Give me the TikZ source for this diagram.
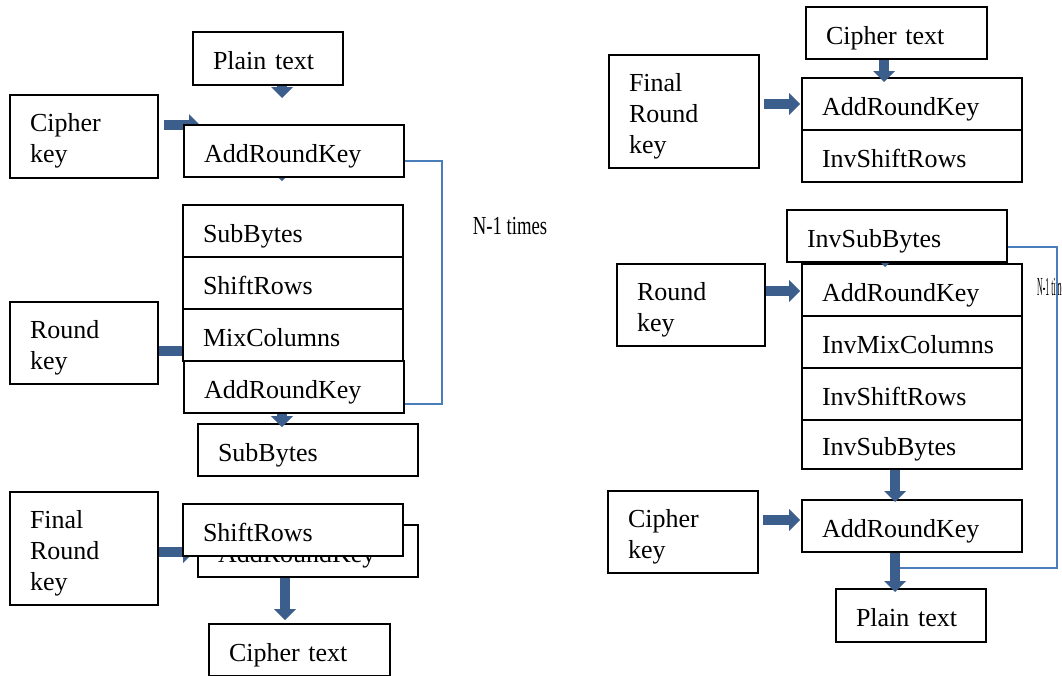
\documentclass[tikz,border=0pt]{standalone}
\usepackage{fontspec}
\setmainfont{Liberation Serif}
\usepackage{graphicx}
\usetikzlibrary{arrows.meta}
\definecolor{arrowblue}{HTML}{3B5E8D}
\definecolor{loopblue}{HTML}{4A7EBB}
\pgfdeclarelayer{bottom}
\pgfdeclarelayer{bg}
\pgfsetlayers{bottom,bg,main}
% taller first line for the key boxes, so their text sits a little lower
\newcommand\keystrut{\rule{0pt}{27pt}}

\begin{document}
\begin{tikzpicture}[x=1pt,y=-1pt,
  every node/.style={font=\fontsize{26pt}{31pt}\selectfont},
  box/.style={draw=black, line width=2pt, fill=white, inner xsep=20pt,
              inner ysep=0pt, align=left},
  one/.style={text height=24pt, text depth=2pt, minimum height=52pt},
  stage/.style={box, one, text width=180pt},
  keybox/.style={box, text width=108pt},
  barrow/.style={draw=arrowblue, line width=10pt,
                 -{Triangle[length=11pt, width=22pt, line width=0pt]}},
  loopline/.style={draw=loopblue, line width=2pt},
  times/.style={inner sep=0pt}]

\useasboundingbox (0,0) rectangle (1062,675);
\clip (0,0) rectangle (1062,675);

% ---------------- encryption ----------------
\node[box, one, text width=110pt, minimum height=53pt] (pt1) at (268,58.5) {Plain text};
\node[keybox, minimum height=83pt] (ck1) at (84,136.5) {\keystrut Cipher\\key};
\node[stage] (ark1) at (294,151) {AddRoundKey};

\node[stage] (sb1) at (293,231) {SubBytes};
\node[stage] (sr1) at (293,283) {ShiftRows};
\node[stage] (mc1) at (293,335) {MixColumns};
\node[stage] (ark2) at (294,387) {AddRoundKey};
\node[keybox, minimum height=82pt] (rk1) at (84,343) {\keystrut Round\\key};

\node[stage] (sb2) at (308,450) {SubBytes};
\node[keybox, minimum height=113pt] (frk1) at (84,548.5) {\keystrut Final\\Round\\key};
\node[stage] (ark3) at (308,551) {AddRoundKey};
\node[stage] (sr2) at (293,530) {ShiftRows};
\node[box, one, text width=141pt] (ct1) at (299.5,650) {Cipher text};

\node[times] (n1) at (510,226) {\scalebox{0.72}[1]{N-1 times}};

% free ends of the arrows
\coordinate (t1) at (282,98);
\coordinate (t2) at (200,125);
\coordinate (t3) at (282,181);
\coordinate (t4) at (195,351);
\coordinate (t5) at (282,427);
\coordinate (t6) at (194,552);
\coordinate (t7) at (285,620);

\begin{pgfonlayer}{bg}
  \draw[barrow] ([xshift=5pt]ck1.east |- t2) -- (t2);
  \draw[barrow] (t3 |- ark1.center) -- (t3);
  \draw[barrow] (rk1.east |- t4) -- (t4);
  \draw[barrow] (frk1.east |- t6) -- (t6);
\end{pgfonlayer}
\draw[barrow] (t1 |- pt1.south) -- (t1);
\draw[barrow] (t5 |- ark2.south) -- (t5);
\draw[barrow] (t7 |- ark3.south) -- (t7);

\draw[loopline] ([yshift=-10pt]ark1.east) -- ++(37,0) |- ([yshift=-17pt]ark2.east);

% ---------------- decryption ----------------
\node[box, one, text width=141pt] (ct2) at (896.5,33) {Cipher text};
\node[box, text width=110pt, minimum height=113pt] (frk2) at (684,111.5) {\keystrut Final\\Round\\key};
\node[stage] (ark4) at (912,104) {AddRoundKey};
\node[stage] (isr1) at (912,156) {InvShiftRows};

\node[stage] (isb1) at (897,236) {InvSubBytes};
\node[keybox, minimum height=82pt] (rk2) at (691,305) {\keystrut Round\\key};
\begin{pgfonlayer}{bottom}
  \node[stage] (ark5) at (912,290) {AddRoundKey};
\end{pgfonlayer}
\node[stage] (imc) at (912,342) {InvMixColumns};
\node[stage] (isr2) at (912,394) {InvShiftRows};
\node[stage, minimum height=49pt] (isb2) at (912,444.5) {InvSubBytes};

\node[box, text width=110pt, minimum height=82pt] (ck2) at (683,532) {\keystrut Cipher\\key};
\node[stage] (ark6) at (912,526) {AddRoundKey};
\node[box, one, text width=110pt, minimum height=53pt] (pt2) at (911,615.5) {Plain text};

\node[times, anchor=west] (n2) at (1037,287) {\scalebox{0.3}[1]{N-1 times}};

\coordinate (u1) at (884,82);
\coordinate (u2) at (800,104);
\coordinate (u3) at (885,267);
\coordinate (u4) at (800,291);
\coordinate (u5) at (895,502);
\coordinate (u6) at (800,520);
\coordinate (u7) at (895,592);
\coordinate (u8) at (900,568);

\begin{pgfonlayer}{bg}
  \draw[barrow] (u3 |- isb1.center) -- (u3);
\end{pgfonlayer}
\draw[barrow] (u1 |- ct2.south) -- (u1);
\draw[barrow] ([xshift=4pt]frk2.east |- u2) -- (u2);
\draw[barrow] (rk2.east |- u4) -- (u4);
\draw[barrow] (u5 |- isb2.south) -- (u5);
\draw[barrow] ([xshift=4pt]ck2.east |- u6) -- (u6);
\draw[barrow] (u7 |- ark6.south) -- (u7);

\draw[loopline] ([yshift=-11pt]isb1.east) -- ++(49,0) |- (u8);
\end{tikzpicture}
\end{document}
